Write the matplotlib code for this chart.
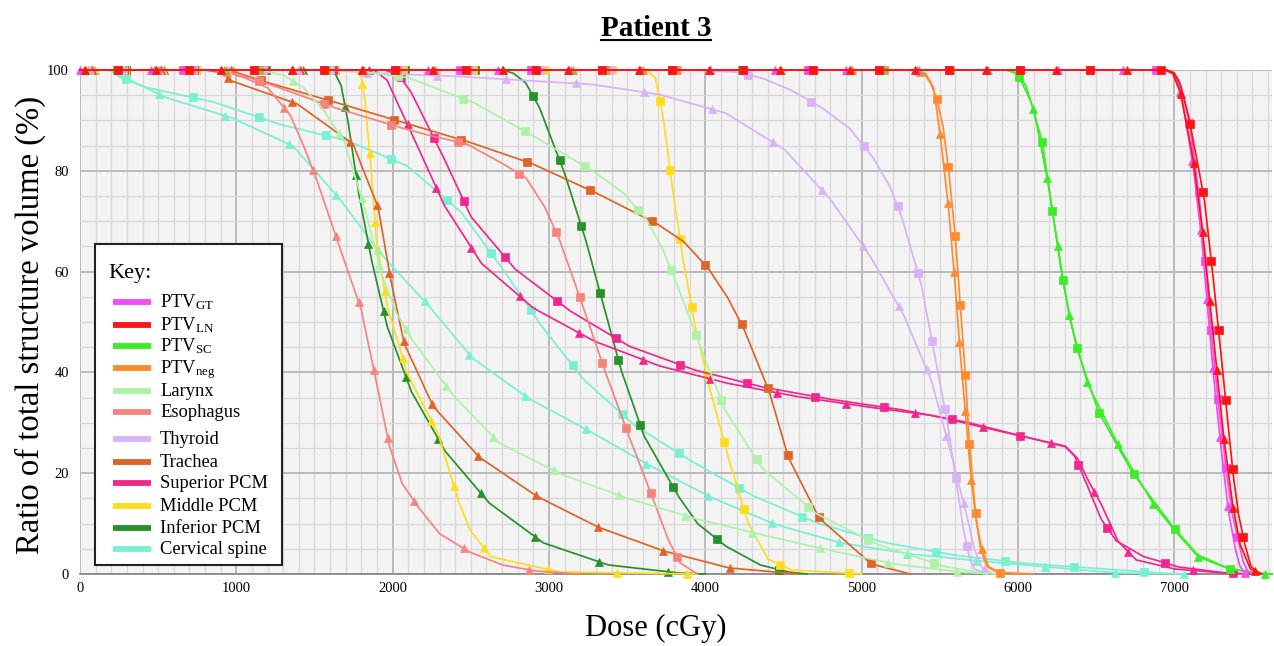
import numpy as np
import matplotlib
matplotlib.use('Agg')
import matplotlib.pyplot as plt
from matplotlib.path import Path
from matplotlib.lines import Line2D
from matplotlib.patches import Rectangle
from matplotlib.ticker import MultipleLocator

plt.rcParams['font.family'] = ['Liberation Serif', 'DejaVu Serif']
plt.rcParams['mathtext.fontset'] = 'custom'
plt.rcParams['mathtext.rm'] = 'Liberation Serif'
plt.rcParams['mathtext.it'] = 'Liberation Serif:italic'
plt.rcParams['mathtext.bf'] = 'Liberation Serif:bold'

# ---------------- data (dose cGy, volume %) ; a = squares plan, b = triangles plan
gt_a_d = [0, 6950, 6990, 7030, 7070, 7102, 7160, 7198, 7237, 7281, 7332, 7370, 7409, 7440, 7470, 7520]
gt_a_v = [100, 100, 99.6, 98, 93.5, 88.5, 74.8, 61.3, 47.6, 34.1, 20.6, 12, 6.7, 2.5, 0.5, 0]
gt_b_d = [0, 6950, 6985, 7010, 7051, 7121, 7173, 7211, 7249, 7294, 7345, 7390, 7420, 7460]
gt_b_v = [100, 100, 99.6, 98.5, 94.4, 80.8, 67.3, 53.8, 39.9, 26.4, 12.7, 5, 1.5, 0]

ln_a_d = [0, 6950, 7000, 7040, 7090, 7140, 7192, 7243, 7288, 7332, 7377, 7410, 7448, 7490, 7550]
ln_a_v = [100, 100, 99.4, 97, 91, 83, 74.4, 60.5, 47, 33.3, 19.6, 12, 6.2, 1.5, 0]
ln_b_d = [0, 6940, 6990, 7038, 7080, 7121, 7179, 7224, 7268, 7313, 7371, 7420, 7486, 7560]
ln_b_v = [100, 100, 99.3, 95.6, 89, 82.3, 68.7, 55, 41.5, 28, 14.1, 6, 1, 0]

sc_a_d = [0, 5920, 5970, 6008, 6080, 6155, 6219, 6283, 6372, 6513, 6730, 6993, 7150, 7339, 7500, 7620]
sc_a_v = [100, 100, 99.6, 98.6, 94, 85.9, 72.4, 58.7, 45.2, 32.3, 20.2, 9.3, 3.8, 1.2, 0.2, 0]
sc_b_d = [0, 5930, 5990, 6050, 6104, 6187, 6257, 6328, 6443, 6641, 6865, 7000, 7153, 7350, 7600]
sc_b_v = [100, 100, 99.5, 97, 91.7, 78.6, 64.7, 51, 37.9, 25.6, 13.9, 8.7, 3.4, 1, 0]

neg_a_d = [0, 5330, 5400, 5440, 5477, 5520, 5553, 5598, 5630, 5662, 5688, 5726, 5760, 5800, 5870, 6000]
neg_a_v = [100, 100, 99.3, 97.5, 94.6, 89, 81.2, 67.5, 54, 40.1, 26.4, 12.7, 5, 1.5, 0.3, 0]
neg_b_d = [0, 5340, 5410, 5460, 5502, 5553, 5592, 5624, 5662, 5700, 5735, 5765, 5810, 5880, 6100]
neg_b_v = [100, 100, 99.3, 96.5, 87.3, 73.6, 59.9, 46.2, 32.5, 19, 10, 5.4, 1.5, 0.3, 0]

lar_a_d = [0, 1700, 2100, 2527, 2912, 3289, 3480, 3621, 3720, 3808, 3967, 4127, 4363, 4703, 5093, 5515, 5800]
lar_a_v = [100, 100, 98.5, 93.4, 86.7, 79.8, 75.5, 70.4, 65, 58.3, 45.2, 32.5, 21, 12.1, 6, 1.6, 0]
lar_b_d = [0, 1150, 1300, 1427, 1560, 1695, 1823, 1932, 2020, 2118, 2380, 2681, 3077, 3493, 3922, 4344, 4779, 5208, 5650, 5900]
lar_b_v = [100, 100, 99, 96.6, 92, 85.5, 72.4, 59.3, 52, 46.8, 35.7, 26, 19.8, 15.1, 11.1, 7.9, 4.8, 2, 0.3, 0]

eso_a_d = [0, 850, 1000, 1200, 1612, 2035, 2200, 2476, 2700, 2853, 2970, 3065, 3140, 3212, 3353, 3506, 3666, 3760, 3839, 3950]
eso_a_v = [100, 100, 99.3, 97.3, 92.7, 88.7, 87.3, 85.3, 81.5, 78.6, 73, 66.5, 60, 53.6, 40.7, 27.8, 14.9, 7, 2.2, 0]
eso_b_d = [0, 900, 1050, 1200, 1344, 1430, 1510, 1651, 1798, 1887, 1977, 2060, 2163, 2300, 2489, 2700, 2911, 3200]
eso_b_v = [100, 100, 98.5, 96.5, 91.1, 85, 78.6, 65.7, 52.6, 39.5, 25.6, 18, 13.3, 8, 4.4, 1.8, 0.6, 0]

thy_a_d = [0, 3900, 4200, 4363, 4550, 4747, 4920, 5067, 5180, 5259, 5381, 5464, 5547, 5611, 5650, 5688, 5720, 5800]
thy_a_v = [100, 100, 99.6, 98.4, 96, 92.5, 88.5, 82.9, 77, 70.6, 57.5, 44, 30.4, 17.1, 9, 3.4, 1, 0]
thy_b_d = [0, 1600, 1932, 2380, 2800, 3263, 3698, 4127, 4504, 4799, 5054, 5272, 5445, 5560, 5669, 5720, 5770, 5840]
thy_b_v = [100, 100, 99.3, 98.8, 98, 97.2, 95.2, 91.5, 84.3, 74.4, 63.1, 51.2, 38.5, 25.4, 12.1, 5, 1.2, 0]

tra_a_d = [0, 950, 1050, 1190, 1612, 2035, 2470, 2886, 3289, 3685, 3860, 4018, 4140, 4242, 4408, 4530, 4728, 5061, 5310]
tra_a_v = [100, 100, 99, 97.6, 93.8, 89.9, 85.9, 81.5, 75.8, 69.6, 66, 60.7, 55, 49, 36.3, 23.2, 11.1, 2, 0]
tra_b_d = [0, 800, 900, 972, 1388, 1747, 1907, 1983, 2073, 2258, 2553, 2918, 3314, 3730, 4152, 4594]
tra_b_v = [100, 100, 99.5, 97.8, 93.3, 85.3, 72.8, 59.1, 45.8, 33.3, 23.2, 15.5, 9.3, 4.6, 1.2, 0]

sup_a_d = [0, 1950, 2040, 2118, 2316, 2501, 2783, 3135, 3513, 3929, 4364, 4792, 5234, 5662, 6097, 6300, 6360, 6424, 6530, 6628, 6800, 7025, 7300, 7486]
sup_a_v = [100, 100, 99, 95.6, 83.3, 70.9, 60.5, 52.2, 45.2, 40.5, 37.1, 34.7, 32.7, 30.2, 26.8, 25.3, 23.5, 19, 11, 6.6, 3.5, 1.4, 0.3, 0]
sup_b_d = [0, 1880, 1964, 2150, 2329, 2566, 2898, 3289, 3705, 4133, 4568, 5003, 5445, 5873, 6302, 6380, 6450, 6532, 6640, 6756, 7000, 7400]
sup_b_v = [100, 100, 98, 85.5, 73.2, 61.7, 52.8, 46.2, 41.3, 37.9, 35.3, 33.3, 31.5, 28.4, 25.4, 23, 18.5, 13.9, 6.5, 2.8, 1, 0]

mid_a_d = [0, 3620, 3680, 3730, 3788, 3852, 3929, 4031, 4146, 4274, 4400, 4550, 5003]
mid_a_v = [100, 100, 98.5, 90.7, 77, 63.5, 50, 36.5, 23.2, 10.1, 3, 0.8, 0]
mid_b_d = [0, 1760, 1800, 1823, 1862, 1894, 1964, 2092, 2291, 2418, 2495, 2630, 3065, 3506, 3948]
mid_b_v = [100, 100, 98.5, 94, 80.4, 66.7, 53.2, 39.9, 27.8, 14.7, 8.7, 3.4, 0.4, 0.2, 0]

inf_a_d = [0, 2700, 2770, 2850, 2937, 3097, 3231, 3346, 3461, 3608, 3826, 3950, 4127, 4350, 4530, 4650]
inf_a_v = [100, 100, 99.4, 97.5, 92.7, 79.8, 66.7, 53.6, 40.5, 27.4, 15.5, 10, 5.6, 1.8, 0.4, 0]
inf_b_d = [0, 1620, 1670, 1715, 1779, 1862, 1964, 2118, 2335, 2617, 2962, 3378, 3826, 4000]
inf_b_v = [100, 100, 97, 89.7, 76.2, 62.7, 49.2, 36.3, 24.4, 14.1, 6.2, 1.8, 0.2, 0]

cer_a_d = [0, 190, 260, 416, 851, 1267, 1708, 2092, 2438, 2700, 2943, 3218, 3551, 3922, 4306, 4715, 5138, 5579, 6014, 6456, 6891, 7050]
cer_a_v = [100, 100, 98.5, 96.6, 93.7, 89.3, 86, 81, 71.8, 60.7, 49.6, 38.7, 29.4, 22.2, 15.5, 10.1, 6.3, 3.8, 2.2, 1.2, 0.2, 0]
cer_b_d = [0, 190, 350, 544, 972, 1363, 1657, 1919, 2220, 2508, 2866, 3257, 3640, 4031, 4440, 4862, 5298, 5746, 6187, 6628, 7070]
cer_b_v = [100, 100, 97.5, 94.6, 90.5, 84.9, 74.6, 63.7, 53.6, 42.9, 34.9, 28.4, 21.6, 15.3, 9.9, 6.2, 4, 2.6, 1.4, 0.2, 0]

labels = [r'PTV$_{\mathregular{GT}}$', r'PTV$_{\mathregular{LN}}$', r'PTV$_{\mathregular{SC}}$',
          r'PTV$_{\mathregular{neg}}$', 'Larynx', 'Esophagus', 'Thyroid', 'Trachea',
          'Superior PCM', 'Middle PCM', 'Inferior PCM', 'Cervical spine']
colors = ['#f24cf2', '#ff1414', '#3cec28', '#ff8a30', '#aef2a8', '#f7837f',
          '#d9b2f7', '#de6428', '#f0288e', '#ffdc1e', '#26922a', '#78f0d2']
curves = [(gt_a_d, gt_a_v, gt_b_d, gt_b_v), (ln_a_d, ln_a_v, ln_b_d, ln_b_v),
          (sc_a_d, sc_a_v, sc_b_d, sc_b_v), (neg_a_d, neg_a_v, neg_b_d, neg_b_v),
          (lar_a_d, lar_a_v, lar_b_d, lar_b_v), (eso_a_d, eso_a_v, eso_b_d, eso_b_v),
          (thy_a_d, thy_a_v, thy_b_d, thy_b_v), (tra_a_d, tra_a_v, tra_b_d, tra_b_v),
          (sup_a_d, sup_a_v, sup_b_d, sup_b_v), (mid_a_d, mid_a_v, mid_b_d, mid_b_v),
          (inf_a_d, inf_a_v, inf_b_d, inf_b_v), (cer_a_d, cer_a_v, cer_b_d, cer_b_v)]

# ---------------- figure
W, H = 1274, 646
fig = plt.figure(figsize=(W / 100, H / 100), dpi=100)
ax = fig.add_axes([80 / W, 1 - 574 / H, 1192 / W, 504 / H])
ax.set_facecolor('#f3f3f3')
ax.set_xlim(0, 7625)
ax.set_ylim(0, 100)
ax.xaxis.set_major_locator(MultipleLocator(1000))
ax.xaxis.set_minor_locator(MultipleLocator(100))
ax.yaxis.set_major_locator(MultipleLocator(20))
ax.yaxis.set_minor_locator(MultipleLocator(5))
ax.grid(which='minor', color='#d8d8d8', lw=0.9)
ax.grid(which='major', color='#bababa', lw=1.4)
ax.set_axisbelow(True)
ax.tick_params(which='both', length=0)
ax.tick_params(axis='y', labelsize=10.5, pad=8)
ax.tick_params(axis='x', labelsize=10.5, pad=6)
for s in ['top', 'right', 'left']:
    ax.spines[s].set_visible(False)
ax.spines['bottom'].set_color('#8a8a8a')
ax.spines['bottom'].set_linewidth(1.3)

STEP = 0.0537


def draw(d, v, color, marker, start, ms, z):
    xy = Path(np.column_stack([d, v])).interpolated(200).vertices
    ax.plot(xy[:, 0], xy[:, 1], color=color, lw=1.25, marker=marker, ms=ms,
            mec=color, mew=0.5, markevery=(start, STEP), clip_on=False,
            solid_joinstyle='round', zorder=z)


order = [11, 10, 9, 8, 7, 6, 5, 4, 3, 2, 0, 1]
for k, i in enumerate(order):
    ad, av, bd, bv = curves[i]
    draw(ad, av, colors[i], 's', 0.0274 + i * 0.0009, 5.4, 3 + k * 0.01)
    draw(bd, bv, colors[i], '^', 0.002 + i * 0.0009, 5.6, 3 + k * 0.01 + 0.005)


def fx(px):
    return px / W


def fy(py):
    return 1 - py / H


# ---------------- legend (Key)
fig.add_artist(Rectangle((fx(95), fy(565)), fx(282) - fx(95), fy(244) - fy(565),
                         transform=fig.transFigure, facecolor='white',
                         edgecolor='#222222', lw=1.5, zorder=20))
fig.text(fx(108), fy(278), 'Key:', fontsize=16, zorder=21)
ys = [302, 325, 346, 368, 391, 412, 439, 462, 483, 506, 528, 549]
for lab, col, yc in zip(labels, colors, ys):
    fig.add_artist(Line2D([fx(113), fx(151)], [fy(yc), fy(yc)], transform=fig.transFigure,
                          color=col, lw=4.2, solid_capstyle='butt', zorder=21))
    fig.text(fx(160), fy(yc + 5), lab, fontsize=13.3, va='baseline', zorder=21)

# ---------------- titles
t = fig.text(fx(656), fy(36), 'Patient 3', fontsize=21, fontweight='bold',
             ha='center', va='baseline')
fig.text(fx(656), fy(636), 'Dose (cGy)', fontsize=22, ha='center', va='baseline')
fig.text(fx(30), fy(325), 'Ratio of total structure volume (%)', fontsize=23.5,
         rotation=90, ha='center', va='center')

fig.canvas.draw()
bb = t.get_window_extent()
fig.add_artist(Line2D([bb.x0 / W, bb.x1 / W], [fy(40), fy(40)], transform=fig.transFigure,
                      color='black', lw=1.5))

fig.savefig('out.png', dpi=100)
